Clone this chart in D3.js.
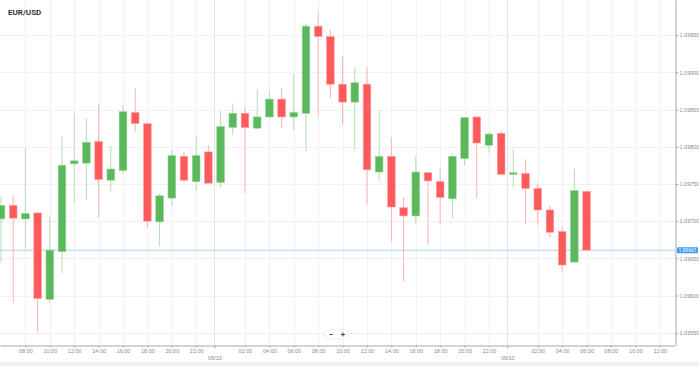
<!DOCTYPE html>
<html>
<head>
<meta charset="utf-8">
<script src="https://cdn.jsdelivr.net/npm/d3@7"></script>
<style>
	body { margin: 0; background: #fff; }
	svg { display: block; font-family: Roboto, "Open Sans", sans-serif; }
	.grid line { stroke: #f1f1f1; stroke-width: 1; }
	.grid .day { stroke: #e4e4e4; }
	.axis path, .axis line { stroke: #a8a8a8; }
	.axis text { fill: #8a8a8a; font-size: 5.5px; }
	.title { fill: #333; font-size: 8px; font-weight: 700; }
</style>
</head>
<body>
<div id="chart"></div>
<script>
var symbol = "EUR/USD";
var firstCandle = new Date(2017, 9, 7, 6, 0);	// hourly candles from here
var lastPrice = 1.09661;
var priceTicks = [1.0955, 1.0960, 1.0965, 1.0970, 1.0975, 1.0980, 1.0985, 1.0990, 1.0995];

var opens  = [1.09703, 1.09721, 1.09703, 1.09711, 1.09595, 1.09659, 1.09777, 1.09778, 1.09807, 1.09755,
              1.09768, 1.09846, 1.09831, 1.09699, 1.09731, 1.09787, 1.09753, 1.09793, 1.09752, 1.09826,
              1.09845, 1.09825, 1.09840, 1.09864, 1.09840, 1.09845, 1.09962, 1.09948, 1.09884, 1.09860,
              1.09884, 1.09766, 1.09787, 1.09718, 1.09707, 1.09765, 1.09753, 1.09730, 1.09784, 1.09840,
              1.09802, 1.09818, 1.09763, 1.09764, 1.09744, 1.09715, 1.09686, 1.09645, 1.09740];
var highs  = [1.09733, 1.09735, 1.09798, 1.09712, 1.09706, 1.09814, 1.09845, 1.09839, 1.09857, 1.09801,
              1.09856, 1.09879, 1.09832, 1.09737, 1.09796, 1.09793, 1.09814, 1.09802, 1.09848, 1.09858,
              1.09855, 1.09877, 1.09876, 1.09879, 1.09898, 1.09965, 1.09980, 1.09957, 1.09921, 1.09907,
              1.09907, 1.09849, 1.09813, 1.09732, 1.09787, 1.09766, 1.09772, 1.09791, 1.09840, 1.09841,
              1.09819, 1.09821, 1.09796, 1.09783, 1.09751, 1.09721, 1.09693, 1.09770, 1.09741];
var lows   = [1.09645, 1.09590, 1.09663, 1.09551, 1.09590, 1.09630, 1.09725, 1.09730, 1.09705, 1.09740,
              1.09763, 1.09820, 1.09691, 1.09666, 1.09720, 1.09752, 1.09741, 1.09750, 1.09745, 1.09816,
              1.09738, 1.09824, 1.09839, 1.09825, 1.09822, 1.09794, 1.09840, 1.09865, 1.09830, 1.09795,
              1.09723, 1.09754, 1.09673, 1.09619, 1.09696, 1.09668, 1.09696, 1.09704, 1.09775, 1.09731,
              1.09792, 1.09762, 1.09746, 1.09696, 1.09695, 1.09678, 1.09631, 1.09644, 1.09660];
var closes = [1.09721, 1.09704, 1.09710, 1.09596, 1.09661, 1.09775, 1.09781, 1.09806, 1.09756, 1.09770,
              1.09847, 1.09831, 1.09700, 1.09734, 1.09788, 1.09755, 1.09788, 1.09751, 1.09827, 1.09845,
              1.09826, 1.09840, 1.09864, 1.09840, 1.09846, 1.09962, 1.09948, 1.09884, 1.09860, 1.09886,
              1.09769, 1.09787, 1.09719, 1.09707, 1.09766, 1.09754, 1.09732, 1.09787, 1.09839, 1.09805,
              1.09817, 1.09763, 1.09765, 1.09744, 1.09715, 1.09685, 1.09641, 1.09741, 1.09661];

var W = 699, H = 366, plotW = 675, plotH = 345;
var upCol = "#5cb85c", upWick = "#b4dcb4", dnCol = "#fd5b5b", dnWick = "#ffb2b2";

var candles = opens.map(function(o, i) {
	return { t: d3.timeHour.offset(firstCandle, i), o: o, h: highs[i], l: lows[i], c: closes[i] };
});

var xSc = d3.scaleTime()
	.domain([new Date(2017, 9, 7, 5, 55), new Date(2017, 9, 9, 13, 15)])
	.range([0, plotW]);
var ySc = d3.scaleLinear().domain([1.095335, 1.099972]).range([plotH, 0]);

// even hours, no midnight and nothing hugging the left edge
var hourTicks = d3.timeHour.every(2).range(xSc.domain()[0], xSc.domain()[1])
	.filter(function(d) { return d.getHours() !== 0 && xSc(d) > 10; });
// date marks sit half an hour before midnight
var dayTicks = d3.timeDay.range(xSc.domain()[0], xSc.domain()[1]).map(function(d) {
	return d3.timeMinute.offset(d, -30);
});

var svg = d3.select("#chart").append("svg").attr("width", W).attr("height", H);

svg.append("rect").attr("x", 0).attr("y", 362).attr("width", W).attr("height", 4).attr("fill", "#f0f0f0");

// grid
var grid = svg.append("g").classed("grid", true);
grid.selectAll(".h").data(priceTicks).enter().append("line").classed("h", true)
	.attr("x1", 0).attr("x2", plotW)
	.attr("y1", function(d) { return Math.round(ySc(d)) + 0.5; })
	.attr("y2", function(d) { return Math.round(ySc(d)) + 0.5; });
grid.selectAll(".v").data(hourTicks).enter().append("line").classed("v", true)
	.attr("y1", 0).attr("y2", plotH)
	.attr("x1", function(d) { return Math.round(xSc(d)) + 0.5; })
	.attr("x2", function(d) { return Math.round(xSc(d)) + 0.5; });
grid.selectAll(".day").data(dayTicks).enter().append("line").classed("day", true)
	.attr("y1", 0).attr("y2", plotH)
	.attr("x1", function(d) { return Math.round(xSc(d)) + 0.5; })
	.attr("x2", function(d) { return Math.round(xSc(d)) + 0.5; });

svg.append("text").attr("class", "title").attr("x", 8).attr("y", 14.5).text(symbol);

// current price line
svg.append("line").attr("x1", 0).attr("x2", plotW)
	.attr("y1", ySc(lastPrice)).attr("y2", ySc(lastPrice))
	.attr("stroke", "#c4e2f7").attr("stroke-width", 1.5);

// candles
svg.append("clipPath").attr("id", "plotClip").append("rect")
	.attr("width", plotW).attr("height", plotH);
var bw = 7.6;
var cg = svg.append("g").attr("clip-path", "url(#plotClip)").selectAll("g")
	.data(candles).enter().append("g");
cg.append("line")
	.attr("x1", function(d) { return xSc(d.t); }).attr("x2", function(d) { return xSc(d.t); })
	.attr("y1", function(d) { return ySc(d.h); }).attr("y2", function(d) { return ySc(d.l); })
	.attr("stroke", function(d) { return d.c >= d.o ? upWick : dnWick; })
	.attr("stroke-width", 1);
cg.append("rect")
	.attr("x", function(d) { return xSc(d.t) - bw / 2; })
	.attr("y", function(d) { return ySc(Math.max(d.o, d.c)); })
	.attr("width", bw)
	.attr("height", function(d) { return Math.max(1, Math.abs(ySc(d.o) - ySc(d.c))); })
	.attr("fill", function(d) { return d.c >= d.o ? upCol : dnCol; })
	.attr("stroke", function(d) { return d.c >= d.o ? "#8fcf8f" : "#ff9a9a"; })
	.attr("stroke-width", 0.6);

// right axis
var yAxis = d3.axisRight(ySc).tickValues(priceTicks).tickSize(3).tickSizeOuter(0)
	.tickFormat(d3.format(".5f"));
svg.append("g").classed("axis", true).attr("transform", "translate(" + (plotW + 0.5) + ",0)").call(yAxis)
	.call(function(g) { g.selectAll("text").attr("x", 4); });

// bottom axis
var xAxis = d3.axisBottom(xSc).tickValues(hourTicks).tickSize(2).tickSizeOuter(0)
	.tickFormat(d3.timeFormat("%H:%M"));
svg.append("g").classed("axis", true).attr("transform", "translate(0," + (plotH + 0.5) + ")").call(xAxis)
	.call(function(g) { g.selectAll("text").attr("y", 4); });
var dAxis = d3.axisBottom(xSc).tickValues(dayTicks).tickSize(3).tickSizeOuter(0)
	.tickFormat(function(d) { return d3.timeFormat("%d/%m")(d3.timeDay.offset(d, 1)); });
svg.append("g").classed("axis", true).attr("transform", "translate(0," + (plotH + 0.5) + ")").call(dAxis)
	.call(function(g) { g.select(".domain").remove(); g.selectAll("text").attr("y", 11); });

// last price tag
var tag = svg.append("g").attr("transform", "translate(" + (plotW + 2) + "," + ySc(lastPrice) + ")");
tag.append("rect").attr("x", 0).attr("y", -3).attr("width", 21).attr("height", 6).attr("rx", 1)
	.attr("fill", "#3d9cf2");
tag.append("text").attr("x", 10.5).attr("y", 0).attr("dy", "0.34em").attr("text-anchor", "middle")
	.attr("fill", "#fff").style("font-size", "5px").text(d3.format(".5f")(lastPrice));

// zoom buttons
var zb = svg.append("g").attr("transform", "translate(325,330)");
zb.append("rect").attr("width", 24).attr("height", 9).attr("rx", 1.5)
	.attr("fill", "#fff").attr("stroke", "#e6e6e6").attr("stroke-width", 0.7);
zb.append("text").attr("x", 6).attr("y", 6.8).attr("text-anchor", "middle")
	.attr("fill", "#444").style("font-size", "8px").style("font-weight", 700).text("−");
zb.append("text").attr("x", 18).attr("y", 7).attr("text-anchor", "middle")
	.attr("fill", "#444").style("font-size", "8px").style("font-weight", 700).text("+");
</script>
</body>
</html>
